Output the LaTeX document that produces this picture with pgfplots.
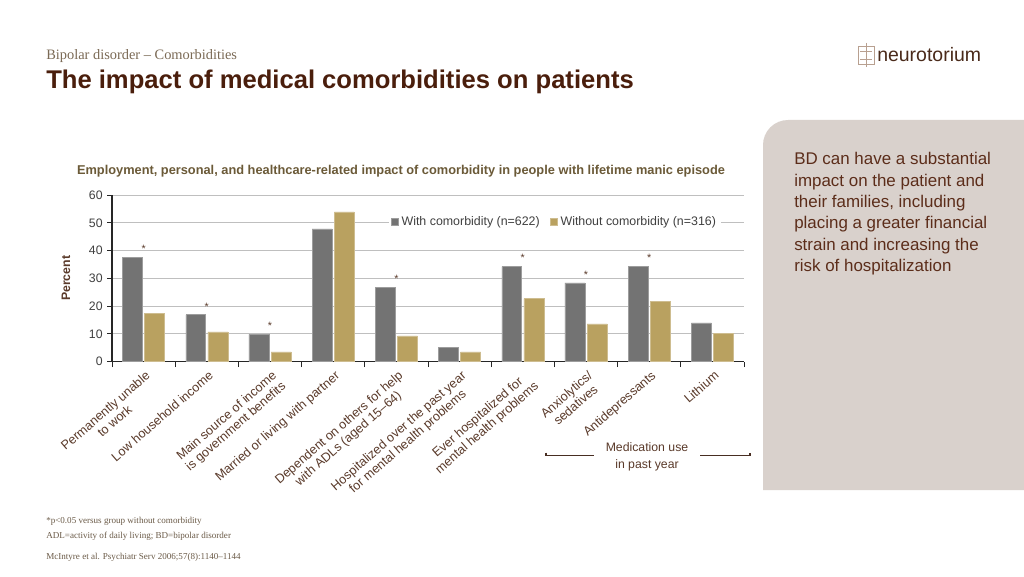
\documentclass[border=0pt]{standalone}
\usepackage{pgfplots}
\pgfplotsset{compat=1.18}
\usepackage{pgfplotstable}
\usepackage{fontspec}
\setmainfont{Liberation Sans}
\newfontfamily\seriffont{Liberation Serif}
\definecolor{bargray}{HTML}{737373}
\definecolor{bartan}{HTML}{B9A160}
\definecolor{titlebrown}{HTML}{4A1E0C}
\definecolor{subbrown}{HTML}{7B6A55}
\definecolor{charttitle}{HTML}{6B5A38}
\definecolor{labelbrown}{HTML}{5A3A2A}
\definecolor{footc}{HTML}{6B5B48}
\definecolor{panelc}{HTML}{D9D1CC}
\definecolor{paneltext}{HTML}{5C2D1A}
\definecolor{logoc}{HTML}{4A2A1A}
\definecolor{logoicon}{HTML}{B8A090}

\pgfplotstableread{
x y s
0 37.5 *
1 16.9 *
2 9.8 *
3 47.8 {}
4 26.7 *
5 5.2 {}
6 34.2 *
7 28.4 *
8 34.2 *
9 14.0 {}
}\withcom
\pgfplotstableread{
x y
0 17.5
1 10.7
2 3.5
3 53.9
4 9.3
5 3.5
6 22.7
7 13.6
8 21.6
9 10.1
}\withoutcom

\begin{document}
\begin{tikzpicture}[x=0.75pt,y=0.75pt]
\path[use as bounding box, fill=white] (0,0) rectangle (1024,576);
% right panel
\fill[panelc] (1024,86) -- (763,86) -- (763,431) arc[start angle=180,end angle=90,radius=25] -- (1024,456) -- cycle;
\node[anchor=north west, align=left, inner sep=0pt, text=paneltext,
  font=\fontsize{12.7}{16.1}\selectfont] at (794,576-152)
  {BD can have a substantial\\impact on the patient and\\their families, including\\placing a greater financial\\strain and increasing the\\risk of hospitalization};
% headings
\node[anchor=base west, inner sep=0pt, text=subbrown, font=\seriffont\fontsize{10.8}{12}\selectfont] at (46,576-60) {Bipolar disorder – Comorbidities};
\node[anchor=base west, inner sep=0pt, text=titlebrown, font=\bfseries\fontsize{19.2}{22}\selectfont] at (46,576-89) {The impact of medical comorbidities on patients};
% logo
\begin{scope}[logoicon, line width=0.6pt]
\draw (858,576-46) rectangle (874,576-64);
\draw (866,576-43) -- (866,576-67);
\draw (860,576-51) -- (872,576-51);
\draw (860,576-59) -- (872,576-59);
\end{scope}
\node[anchor=west, inner sep=0pt, text=logoc, font=\fontsize{14.6}{16}\selectfont] at (877,576-55) {neurotorium};
% chart title
\node[anchor=center, inner sep=0pt, text=charttitle, font=\bfseries\fontsize{9.6}{11}\selectfont] at (401,576-171) {Employment, personal, and healthcare-related impact of comorbidity in people with lifetime manic episode};
% footnotes
\node[anchor=west, inner sep=0pt, text=footc, font=\seriffont\fontsize{6.8}{8}\selectfont] at (46,576-521) {*p\textless 0.05 versus group without comorbidity};
\node[anchor=west, inner sep=0pt, text=footc, font=\seriffont\fontsize{6.8}{8}\selectfont] at (46,576-536) {ADL=activity of daily living; BD=bipolar disorder};
\node[anchor=west, inner sep=0pt, text=footc, font=\seriffont\fontsize{6.8}{8}\selectfont] at (46,576-557) {McIntyre et al. Psychiatr Serv 2006;57(8):1140–1144};
% medication bracket
\draw[labelbrown!80!black, line width=0.8pt] (546,576-452.5) -- (546,576-455.7) -- (594,576-455.7);
\draw[labelbrown!80!black, line width=0.8pt] (700,576-455.7) -- (750,576-455.7) -- (750,576-452.5);
\node[align=center, inner sep=0pt, text=labelbrown, font=\fontsize{9.2}{12.5}\selectfont] at (647,576-457) {Medication use\\in past year};

\begin{axis}[
  at={(84pt,160.725pt)}, anchor=south west,
  scale only axis, width=474pt, height=125pt,
  xmin=-0.5, xmax=9.5, ymin=0, ymax=60,
  ytick={0,10,...,60},
  xtick={0,...,9},
  xticklabels={{Permanently unable\\to work},{Low household income},{Main source of income\\is government benefits},{Married or living with partner},{Dependent on others for help\\with ADLs (aged 15–64)},{Hospitalized over the past year\\for mental health problems},{Ever hospitalized for\\mental health problems},{Anxiolytics/\\sedatives},{Antidepressants},{Lithium}},
  minor xtick={-0.5,0.5,...,9.5},
  major x tick style={draw=none},
  minor tick length=4pt,
  major tick length=3.5pt,
  tick align=outside,
  axis x line*=bottom, axis y line*=left,
  axis line style={black!85, line width=0.8pt},
  tick style={black!85, line width=0.7pt},
  ymajorgrids, grid style={draw=black!25, line width=0.7pt},
  /pgf/number format/assume math mode=true,
  yticklabel style={font=\fontsize{9.2}{10}\selectfont, text=black!75},
  xticklabel style={font=\fontsize{9.5}{10.5}\selectfont, text=labelbrown, rotate=41, anchor=north east, align=center, inner sep=1pt, yshift=-1.5pt},
  ylabel={Percent},
  ylabel style={font=\bfseries\fontsize{9.2}{10}\selectfont, text=labelbrown, at={(axis description cs:-0.073,0.5)}, anchor=center},
  legend style={at={(0.701,0.838)}, anchor=center, draw=none, fill=white, legend columns=2,
    font=\fontsize{9.3}{10}\selectfont, text=black!75, inner sep=1.5pt,
    /tikz/every even column/.append style={column sep=6pt}},
  legend image code/.code={\fill[#1] (0pt,-2.6pt) rectangle (5.2pt,2.6pt);},
]
\addplot[ybar, bar width=0.315, bar shift=-0.175, fill=bargray, draw=bargray!70!white, line width=0.4pt,
  point meta=explicit symbolic, nodes near coords,
  every node near coord/.append style={font=\fontsize{8}{9}\selectfont, text=labelbrown, yshift=0pt}]
  table[x=x, y=y, meta=s]{\withcom};
\addlegendentry{With comorbidity (n=622)}
\addplot[ybar, bar width=0.315, bar shift=0.175, fill=bartan, draw=bartan!70!white, line width=0.4pt]
  table[x=x, y=y]{\withoutcom};
\addlegendentry{Without comorbidity (n=316)}
\end{axis}
\end{tikzpicture}
\end{document}
